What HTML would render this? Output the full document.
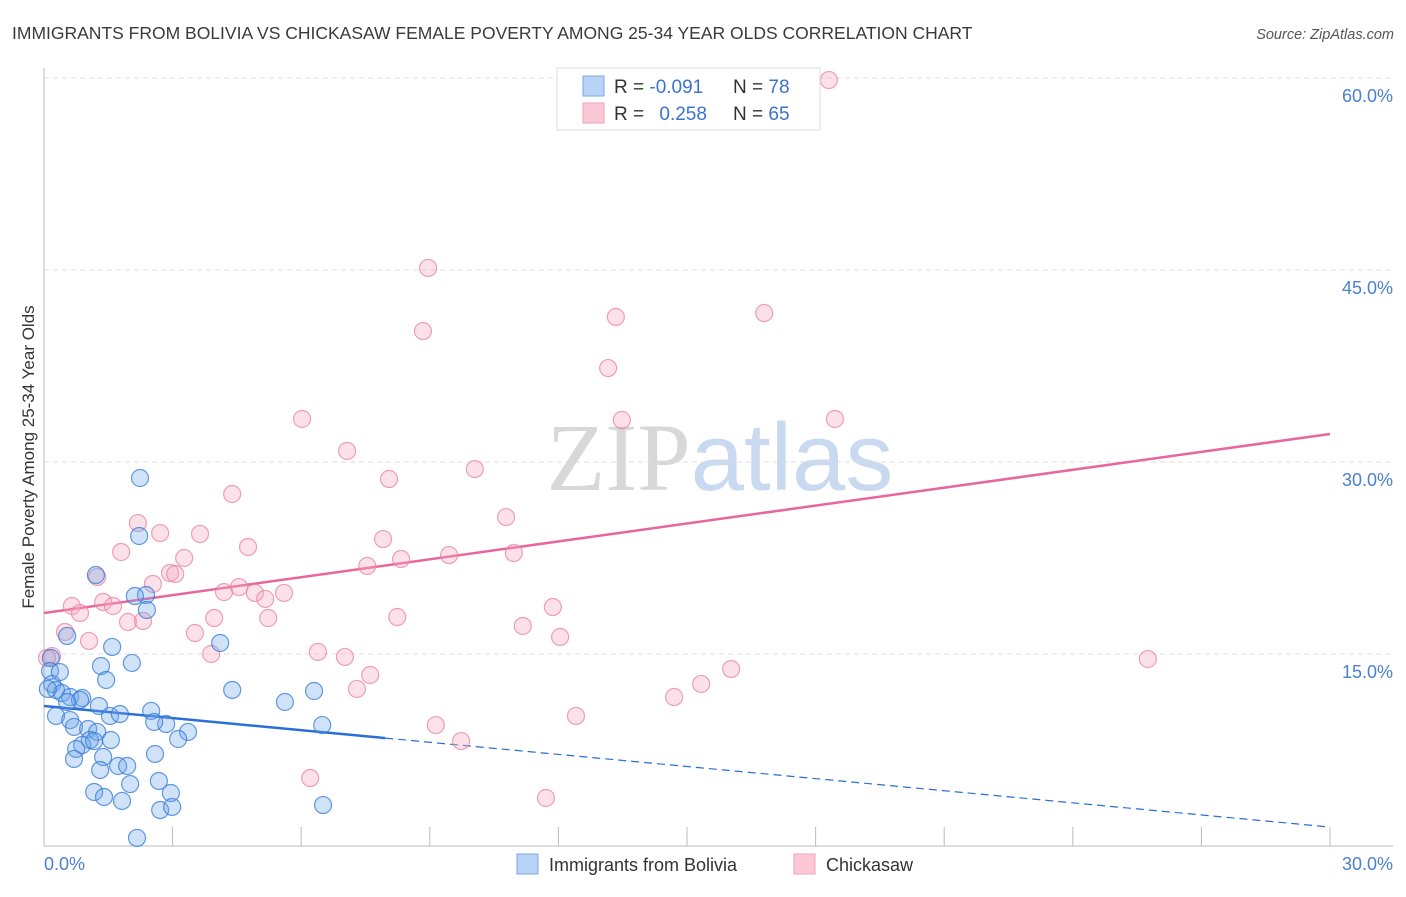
<!DOCTYPE html>
<html><head><meta charset="utf-8"><style>
body{margin:0;background:#fff;font-family:"Liberation Sans",sans-serif}
svg text{font-family:"Liberation Sans",sans-serif}
</style></head><body>
<svg id="chart" width="1406" height="892" viewBox="0 0 1406 892" xmlns="http://www.w3.org/2000/svg">
<text x="12" y="39" font-size="17.5" fill="#3a3a3a">IMMIGRANTS FROM BOLIVIA VS CHICKASAW FEMALE POVERTY AMONG 25-34 YEAR OLDS CORRELATION CHART</text>
<text x="1394" y="39" font-size="14.5" fill="#555" font-style="italic" text-anchor="end">Source: ZipAtlas.com</text>
<text x="720" y="490" font-size="96" text-anchor="middle"><tspan font-family="Liberation Serif,serif" fill="#d8d8d8">ZIP</tspan><tspan fill="#c8d9f0">atlas</tspan></text>
<g id="grid"></g>
<g id="axes"></g>
<g id="lines"></g>
<g id="points"></g>
<text transform="translate(34,457) rotate(-90)" font-size="17" fill="#333" text-anchor="middle">Female Poverty Among 25-34 Year Olds</text>
<g>
<rect x="557" y="68" width="263" height="62" fill="#fff" stroke="#ddd"/>
<rect x="583" y="76" width="21" height="20" fill="#b8d3f5" stroke="#7aa9e6"/>
<rect x="583" y="103" width="21" height="20" fill="#fbc8d6" stroke="#f0a0b8"/>
<text x="614" y="93" font-size="19" fill="#333">R = <tspan fill="#3b73d0">-0.091</tspan></text>
<text x="733" y="93" font-size="19" fill="#333">N = <tspan fill="#3b73d0">78</tspan></text>
<text x="614" y="120" font-size="19" fill="#333">R = <tspan fill="#3b73d0" dx="10">0.258</tspan></text>
<text x="733" y="120" font-size="19" fill="#333">N = <tspan fill="#3b73d0">65</tspan></text>
</g>
<g>
<rect x="517" y="854" width="21" height="20" fill="#b8d3f5" stroke="#7aa9e6"/>
<text x="549" y="871" font-size="18" fill="#333">Immigrants from Bolivia</text>
<rect x="794" y="854" width="21" height="20" fill="#fbc8d6" stroke="#f0a0b8"/>
<text x="826" y="871" font-size="18" fill="#333">Chickasaw</text>
</g>
</svg>
<script>
const blueX=[2.24,2.22,1.21,2.38,2.12,2.40,0.54,1.59,4.11,2.05,1.33,0.16,0.14,1.45,4.39,5.62,6.30,0.19,0.28,0.42,0.61,0.89,0.84,0.54,0.28,0.61,1.28,1.54,1.77,2.50,2.85,2.57,3.36,3.13,6.49,0.70,1.03,1.24,1.07,0.89,1.17,1.56,0.75,0.70,1.38,1.73,1.94,1.31,2.59,2.68,2.01,1.17,1.40,1.82,2.96,2.71,2.99,6.51,2.17,0.37,0.09];
const blueY=[28.75,24.22,21.17,19.61,19.53,18.44,16.41,15.55,15.86,14.30,14.06,14.69,13.67,12.97,12.19,11.25,12.11,12.66,12.19,11.95,11.64,11.56,11.41,11.25,10.16,9.84,10.94,10.16,10.31,10.55,9.53,9.69,8.91,8.36,9.45,9.30,9.14,8.91,8.28,7.89,8.20,8.28,7.58,6.80,6.95,6.25,6.25,5.94,7.19,5.08,4.84,4.22,3.83,3.52,4.14,2.81,3.05,3.20,0.63,13.59,12.27];
const pinkX=[18.31,8.96,8.84,13.34,16.80,13.16,6.02,13.48,18.45,7.07,10.05,8.05,4.39,10.78,2.19,2.71,3.64,4.76,7.91,1.80,3.27,9.45,10.96,8.33,7.54,1.24,2.94,3.06,2.54,4.55,4.20,4.92,5.60,0.65,1.38,1.61,0.84,5.16,8.24,11.87,3.97,5.23,1.96,2.31,11.17,3.52,1.05,12.04,3.90,6.39,7.02,0.19,7.61,7.30,16.03,15.33,14.70,25.75,12.41,9.14,9.73,6.21,11.71,0.49,0.07];
const pinkY=[59.84,45.16,40.23,41.33,41.64,37.34,33.36,33.28,33.36,30.86,29.45,28.67,27.50,25.70,25.23,24.45,24.38,23.36,23.98,22.97,22.50,22.73,22.89,22.42,21.88,21.02,21.33,21.25,20.47,20.23,19.84,19.77,19.77,18.75,19.06,18.75,18.20,19.30,17.89,18.67,17.81,17.81,17.50,17.58,17.19,16.64,16.02,16.33,15.00,15.16,14.77,14.84,13.36,12.27,13.83,12.66,11.64,14.61,10.16,9.45,8.20,5.31,3.75,16.72,14.69];
const yTicks=[15,30,45,60];
const yTickLabels=["15.0%","30.0%","45.0%","60.0%"];
const xTicks=[0,3,6,9,12,15,18,21,24,27,30];
const xTickLabels=["0.0%","30.0%"];
const blueTrend=[10.94,1.48];
const pinkTrend=[18.20,32.19];
const blueSolidEnd=7.96;

const X0=44,X1=1330,Y0=846;
const sx=v=>X0+v/30*(X1-X0);
const sy=v=>Y0-v/15*192;
const NS="http://www.w3.org/2000/svg";
function mk(tag,attrs,parent){const e=document.createElementNS(NS,tag);for(const k in attrs)e.setAttribute(k,attrs[k]);parent.appendChild(e);return e;}
const grid=document.getElementById('grid'),axes=document.getElementById('axes'),lines=document.getElementById('lines'),pts=document.getElementById('points');
yTicks.forEach((t,i)=>{
  const l=mk('line',{x1:X0,x2:1393,y1:sy(t),y2:sy(t),stroke:'#ddd','stroke-dasharray':'5,4'},grid);
  
  
  const tx=mk('text',{x:1393,y:sy(t)+24,'font-size':18,fill:'#4a80d0','text-anchor':'end'},grid);
  tx.textContent=yTickLabels[i];
  
  
});
const ya=mk('line',{x1:X0,x2:X0,y1:68,y2:Y0,stroke:'#bbb'},axes);


const xa=mk('line',{x1:X0,x2:1393,y1:Y0,y2:Y0,stroke:'#bbb'},axes);


xTicks.forEach(t=>{
  if(t===0)return;
  const l=mk('line',{x1:sx(t),x2:sx(t),y1:Y0-19,y2:Y0,stroke:'#bbb'},axes);
  
  
});
const xl0=mk('text',{x:44,y:870,'font-size':18,fill:'#4a80d0'},axes);
xl0.textContent=xTickLabels[0];


const xl1=mk('text',{x:1393,y:870,'font-size':18,fill:'#4a80d0','text-anchor':'end'},axes);
xl1.textContent=xTickLabels[1];



function drawPts(xs,ys,fill,stroke,name){
  xs.forEach((x,i)=>{
    const c=mk('circle',{cx:sx(x),cy:sy(ys[i]),r:8.5,fill:fill,stroke:stroke,'stroke-width':1.2},pts);
    
    
  });
}
drawPts(pinkX,pinkY,'rgba(246,170,192,0.35)','rgba(232,130,160,0.75)','chickasaw-point');
drawPts(blueX,blueY,'rgba(110,165,232,0.32)','rgba(50,120,215,0.75)','bolivia-point');

const bAt=x=>blueTrend[0]+(blueTrend[1]-blueTrend[0])*x/30;
const pAt=x=>pinkTrend[0]+(pinkTrend[1]-pinkTrend[0])*x/30;
const bl=mk('line',{x1:sx(0),y1:sy(bAt(0)),x2:sx(blueSolidEnd),y2:sy(bAt(blueSolidEnd)),stroke:'#2a6fd6','stroke-width':2.5},lines);


const bd=mk('line',{x1:sx(blueSolidEnd),y1:sy(bAt(blueSolidEnd)),x2:sx(30),y2:sy(bAt(30)),stroke:'#2a6fd6','stroke-width':1.2,'stroke-dasharray':'8,5'},lines);


const pl=mk('line',{x1:sx(0),y1:sy(pAt(0)),x2:sx(30),y2:sy(pAt(30)),stroke:'#e8679a','stroke-width':2.5},lines);


</script>
</body></html>
